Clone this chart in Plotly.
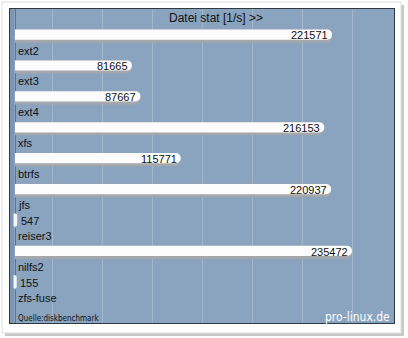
import plotly.graph_objects as go

categories = ["ext2", "ext3", "ext4", "xfs", "btrfs", "jfs", "reiser3", "nilfs2", "zfs-fuse"]
values = [221571, 81665, 87667, 216153, 115771, 220937, 547, 235472, 155]
title_text = "Datei stat [1/s] >>"
source_text = "Quelle:diskbenchmark"
brand_text = "pro-linux.de"

W, H = 408, 338
L, R, T, B = 10, 394, 9, 323          # plot area in pixels
UPP = 698.73                           # data units per pixel
x0_px = 15
ROW0, ROWH = 36, 30.9
PANEL = "#8aa3be"

def px2paper_x(p):
    return (p - L) / (R - L)

def px2paper_y(p):
    return 1 - (p - T) / (B - T)

ys = list(range(len(categories)))
big = [v > 20000 for v in values]

fig = go.Figure()
# shadow (gray) part of bar
fig.add_trace(go.Bar(
    x=values, y=ys, orientation="h", width=0.43,
    marker=dict(color="#a4a7ab", line=dict(width=0), cornerradius=6),
    hoverinfo="skip", showlegend=False,
))
# bright part of bar
fig.add_trace(go.Bar(
    x=values, y=ys, orientation="h", width=0.33, offset=-0.21,
    marker=dict(color="#fcfcfc",
                line=dict(width=[0 if b else 3 for b in big], color="#f4f4f4"),
                cornerradius=5),
    hoverinfo="skip", showlegend=False,
))

annotations = []
for i, (c, v, b) in enumerate(zip(categories, values, big)):
    annotations.append(dict(
        x=0, y=i + 0.47, xref="x", yref="y", text=c, showarrow=False,
        xanchor="left", yanchor="middle", xshift=1,
        font=dict(family="Liberation Sans, Arial", size=11, color="#111111"),
    ))
    annotations.append(dict(
        x=v, y=i - 0.02, xref="x", yref="y", text=str(v), showarrow=False,
        xanchor="right" if b else "left", yanchor="middle",
        xshift=-2 if b else 3,
        font=dict(family="Liberation Sans, Arial", size=11, color="#111111"),
    ))
annotations.append(dict(
    x=px2paper_x(216), y=px2paper_y(18), xref="paper", yref="paper", text=title_text,
    showarrow=False, xanchor="center", yanchor="middle",
    font=dict(family="Liberation Sans, Arial", size=12, color="#111111"),
))
annotations.append(dict(
    x=px2paper_x(16), y=px2paper_y(318), xref="paper", yref="paper", text=source_text,
    showarrow=False, xanchor="left", yanchor="middle",
    font=dict(family="DejaVu Sans Condensed, DejaVu Sans", size=8, color="#111111"),
))
annotations.append(dict(
    x=px2paper_x(392), y=px2paper_y(317), xref="paper", yref="paper", text=brand_text,
    showarrow=False, xanchor="right", yanchor="middle",
    font=dict(family="DejaVu Sans Condensed, DejaVu Sans", size=12, color="#ffffff"),
))

shapes = [
    # card shadow
    dict(type="rect", xref="paper", yref="paper", layer="below",
         x0=px2paper_x(5), x1=px2paper_x(404), y0=px2paper_y(336), y1=px2paper_y(5),
         fillcolor="#c8c8c8", line=dict(width=0)),
    dict(type="rect", xref="paper", yref="paper", layer="below",
         x0=px2paper_x(2), x1=px2paper_x(401), y0=px2paper_y(333), y1=px2paper_y(2),
         fillcolor="#ffffff", line=dict(color="#dddddd", width=1)),
    # panel background
    dict(type="rect", xref="paper", yref="paper", layer="below",
         x0=0, x1=1, y0=0, y1=1, fillcolor=PANEL, line=dict(width=0)),
    # darker left strip of panel
    dict(type="rect", xref="paper", yref="paper", layer="below",
         x0=0, x1=px2paper_x(14), y0=0, y1=1,
         fillcolor="#7d95b1", line=dict(width=0)),
]

fig.update_layout(
    width=W, height=H,
    margin=dict(l=L, r=W - R, t=T, b=H - B, pad=0),
    paper_bgcolor="#ffffff",
    plot_bgcolor=PANEL,
    barmode="overlay",
    annotations=annotations,
    shapes=shapes,
    xaxis=dict(
        range=[-(x0_px - L) * UPP, (R - x0_px) * UPP],
        showticklabels=False, ticks="",
        showgrid=True, gridcolor="#a2b6cc", gridwidth=1,
        tick0=(52 - x0_px) * UPP, dtick=50 * UPP, tickmode="linear",
        zeroline=True, zerolinecolor="#5d728b", zerolinewidth=1,
        showline=True, linecolor="#2f3944", linewidth=1, mirror=True,
        fixedrange=True,
    ),
    yaxis=dict(
        range=[(B - ROW0) / ROWH, (T - ROW0) / ROWH],
        showticklabels=False, ticks="", showgrid=False, zeroline=False,
        showline=True, linecolor="#2f3944", linewidth=1, mirror=True,
        fixedrange=True,
    ),
)

fig.write_html("out.html", config={"displayModeBar": False})
